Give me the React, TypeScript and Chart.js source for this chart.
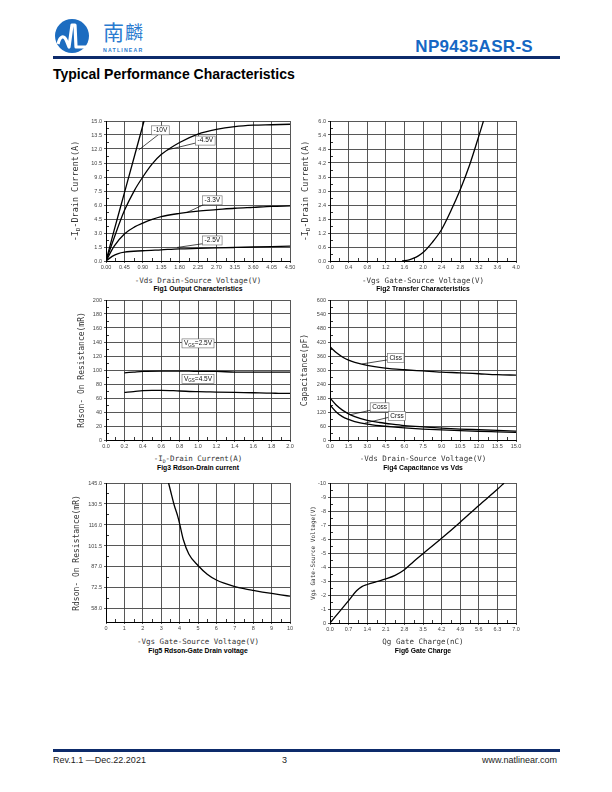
import React, { useEffect, useRef } from "react";
import { Chart, registerables } from "chart.js";
Chart.register(...registerables);

// ---------- Fig1 Output Characteristics ----------
const fig1XTicks = ["0.00", "0.45", "0.90", "1.35", "1.80", "2.25", "2.70", "3.15", "3.60", "4.05", "4.50"];
const fig1YTicks = ["0.0", "1.5", "3.0", "4.5", "6.0", "7.5", "9.0", "10.5", "12.0", "13.5", "15.0"];
const fig1VdsM10 = [0, 0.2, 0.45, 0.7, 0.93];
const fig1IdM10 = [0, 3.3, 7.3, 11.3, 15];
const fig1VdsCurve = [0, 0.2, 0.45, 0.7, 0.9, 1.13, 1.35, 1.8, 2.25, 2.7, 3.15, 3.6, 4.05, 4.5];
const fig1IdM45 = [0, 2.5, 5.4, 7.6, 9.0, 10.4, 11.4, 12.7, 13.6, 14.1, 14.4, 14.55, 14.6, 14.65];
const fig1IdM33 = [0, 1.6, 2.9, 3.65, 4.05, 4.45, 4.75, 5.1, 5.35, 5.5, 5.65, 5.75, 5.85, 5.9];
const fig1VdsM25 = [0, 0.15, 0.3, 0.45, 0.9, 1.35, 1.8, 2.25, 2.7, 3.15, 3.6, 4.05, 4.5];
const fig1IdM25 = [0, 0.5, 0.8, 0.95, 1.1, 1.2, 1.3, 1.35, 1.4, 1.45, 1.5, 1.55, 1.6];

// ---------- Fig2 Transfer Characteristics ----------
const fig2XTicks = ["0.0", "0.4", "0.8", "1.2", "1.6", "2.0", "2.4", "2.8", "3.2", "3.6", "4.0"];
const fig2YTicks = ["0.0", "0.6", "1.2", "1.8", "2.4", "3.0", "3.6", "4.2", "4.8", "5.4", "6.0"];
const fig2Vgs = [1.55, 1.7, 1.8, 1.9, 2.0, 2.2, 2.4, 2.6, 2.8, 3.0, 3.2, 3.3];
const fig2Id = [0, 0.05, 0.12, 0.22, 0.36, 0.8, 1.35, 2.15, 3.05, 4.1, 5.35, 6.0];

// ---------- Fig3 Rdson-Drain current ----------
const fig3XTicks = ["0.0", "0.2", "0.4", "0.6", "0.8", "1.0", "1.2", "1.4", "1.6", "1.8", "2.0"];
const fig3YTicks = ["0", "20", "40", "60", "80", "100", "120", "140", "160", "180", "200"];
const fig3Id = [0.2, 0.3, 0.4, 0.6, 0.8, 1.0, 1.2, 1.4, 1.6, 1.8, 2.0];
const fig3Vgs25 = [96, 97, 98, 98.5, 98.5, 98, 98, 97, 97, 97, 97];
const fig3Id45 = [0.2, 0.3, 0.4, 0.5, 0.6, 0.8, 1.0, 1.2, 1.4, 1.6, 1.8, 1.9, 2.0];
const fig3Vgs45 = [68, 69, 70.5, 71, 71, 70, 69, 68.5, 68, 67.5, 67, 66.5, 66.5];

// ---------- Fig4 Capacitance vs Vds ----------
const fig4XTicks = ["0.0", "1.5", "3.0", "4.5", "6.0", "7.5", "9.0", "10.5", "12.0", "13.5", "15.0"];
const fig4YTicks = ["0", "60", "120", "180", "240", "300", "360", "420", "480", "540", "600"];
const fig4Vds = [0, 0.5, 1, 1.5, 2, 3, 4, 5, 6, 7.5, 9, 10.5, 12, 13.5, 15];
const fig4Ciss = [400, 375, 356, 342, 333, 320, 311, 305, 301, 296, 291, 288, 284, 280, 278];
const fig4Coss = [180, 150, 128, 112, 100, 84, 75, 68, 62, 56, 51, 47, 44, 41, 38];
const fig4Crss = [150, 120, 100, 88, 79, 68, 61, 56, 52, 47, 43, 40, 37, 35, 33];

// ---------- Fig5 Rdson-Gate voltage ----------
const fig5XTicks = ["0", "1", "2", "3", "4", "5", "6", "7", "8", "9", "10"];
const fig5YTicks = ["58.0", "72.5", "87.0", "101.5", "116.0", "130.5", "145.0"];
const fig5Vgs = [3.4, 3.5, 3.7, 3.9, 4.0, 4.2, 4.5, 5.0, 5.5, 6.0, 6.5, 7.0, 7.5, 8.0, 8.5, 9.0, 9.5, 10.0];
const fig5Rds = [145, 140, 130, 122, 117, 106, 96, 88, 82, 78, 75.5, 73.5, 72, 70.8, 69.7, 68.7, 67.8, 66.8];

// ---------- Fig6 Gate Charge ----------
const fig6XTicks = ["0.0", "0.7", "1.4", "2.1", "2.8", "3.5", "4.2", "4.9", "5.6", "6.3", "7.0"];
const fig6YTicks = ["-10", "-9", "-8", "-7", "-6", "-5", "-4", "-3", "-2", "-1", "0"];
const fig6Qg = [0, 0.35, 0.7, 1.0, 1.2, 1.4, 1.75, 2.1, 2.45, 2.8, 3.15, 3.5, 4.2, 4.9, 5.6, 6.3, 6.55];
const fig6Vgs = [0, -0.8, -1.6, -2.3, -2.6, -2.75, -2.95, -3.15, -3.4, -3.8, -4.4, -4.95, -6.05, -7.2, -8.4, -9.55, -10];

type Part = { t: string; sub?: boolean };
type BoxLabel = { parts: Part[]; x: number; y: number; line?: number[] };
type Series = { xs: number[]; ys: number[] };
type Spec = {
  left: number; top: number; w: number; h: number;
  xTicks: string[]; yTicks: string[];
  xMin: number; xMax: number; yMin: number; yMax: number;
  reverseY?: boolean; series: Series[]; labels?: BoxLabel[];
};

const PAD_L = 34, PAD_T = 6, PAD_R = 14, PAD_B = 12;
const TICK_FONT = { size: 5.5, family: "Liberation Sans, Arial, sans-serif" };

function Plot({ spec }: { spec: Spec }) {
  const ref = useRef<HTMLCanvasElement>(null);
  const cw = spec.w + PAD_L + PAD_R;
  const ch = spec.h + PAD_T + PAD_B;
  useEffect(() => {
    const xVals = spec.xTicks.map(parseFloat);
    const yVals = spec.yTicks.map(parseFloat);
    const overlay = {
      id: "overlay",
      afterDatasetsDraw(chart: any) {
        const ctx = chart.ctx;
        const xs = chart.scales.x, ys = chart.scales.y;
        const a = chart.chartArea;
        ctx.save();
        ctx.strokeStyle = "#000";
        ctx.lineWidth = 0.8;
        ctx.beginPath();
        for (let i = 0; i < xVals.length - 1; i++) {
          const px = Math.round(xs.getPixelForValue((xVals[i] + xVals[i + 1]) / 2)) + 0.5;
          ctx.moveTo(px, a.bottom);
          ctx.lineTo(px, a.bottom - 3);
        }
        for (let i = 0; i < yVals.length - 1; i++) {
          const py = Math.round(ys.getPixelForValue((yVals[i] + yVals[i + 1]) / 2)) + 0.5;
          ctx.moveTo(a.left, py);
          ctx.lineTo(a.left + 3, py);
        }
        ctx.stroke();
        (spec.labels || []).forEach((lb) => {
          if (lb.line) {
            ctx.beginPath();
            ctx.strokeStyle = "#000";
            ctx.lineWidth = 0.7;
            ctx.moveTo(xs.getPixelForValue(lb.line[0]), ys.getPixelForValue(lb.line[1]));
            ctx.lineTo(xs.getPixelForValue(lb.line[2]), ys.getPixelForValue(lb.line[3]));
            ctx.stroke();
          }
          const big = "6.5px Liberation Sans, Arial, sans-serif";
          const small = "4.5px Liberation Sans, Arial, sans-serif";
          let tw = 0;
          lb.parts.forEach((p) => {
            ctx.font = p.sub ? small : big;
            tw += ctx.measureText(p.t).width;
          });
          const cx = xs.getPixelForValue(lb.x), cy = ys.getPixelForValue(lb.y);
          const bw = tw + 4, bh = 9;
          ctx.fillStyle = "#fff";
          ctx.fillRect(cx - bw / 2, cy - bh / 2, bw, bh);
          ctx.strokeStyle = "#666";
          ctx.lineWidth = 0.6;
          ctx.strokeRect(cx - bw / 2, cy - bh / 2, bw, bh);
          let tx = cx - tw / 2;
          ctx.fillStyle = "#111";
          ctx.textBaseline = "middle";
          lb.parts.forEach((p) => {
            ctx.font = p.sub ? small : big;
            ctx.fillText(p.t, tx, p.sub ? cy + 2 : cy);
            tx += ctx.measureText(p.t).width;
          });
        });
        ctx.restore();
      },
    };
    const chart = new Chart(ref.current as HTMLCanvasElement, {
      type: "scatter",
      data: {
        datasets: spec.series.map((s) => ({
          data: s.xs.map((x, i) => ({ x, y: s.ys[i] })),
          showLine: true,
          borderColor: "#000",
          borderWidth: 1.3,
          pointRadius: 0,
          cubicInterpolationMode: "monotone",
          fill: false,
        })) as any,
      },
      options: {
        animation: false,
        responsive: false,
        maintainAspectRatio: false,
        layout: { padding: { left: 0, top: PAD_T, right: PAD_R, bottom: 0 } },
        plugins: { legend: { display: false }, tooltip: { enabled: false } },
        scales: {
          x: {
            type: "linear",
            min: spec.xMin,
            max: spec.xMax,
            afterBuildTicks: (s: any) => { s.ticks = xVals.map((v) => ({ value: v })); },
            afterFit: (s: any) => { s.height = PAD_B; },
            ticks: {
              callback: (_v: any, i: number) => spec.xTicks[i],
              font: TICK_FONT, color: "#444", padding: 1, maxRotation: 0, autoSkip: false,
            },
            grid: { color: "#444", lineWidth: 0.9, tickLength: 2 },
            border: { color: "#000", width: 1 },
          },
          y: {
            type: "linear",
            min: spec.yMin,
            max: spec.yMax,
            reverse: !!spec.reverseY,
            afterBuildTicks: (s: any) => { s.ticks = yVals.map((v) => ({ value: v })); },
            afterFit: (s: any) => { s.width = PAD_L; },
            ticks: {
              callback: (_v: any, i: number) => spec.yTicks[i],
              font: TICK_FONT, color: "#444", padding: 2, autoSkip: false,
            },
            grid: { color: "#444", lineWidth: 0.9, tickLength: 2 },
            border: { color: "#000", width: 1 },
          },
        },
      } as any,
      plugins: [overlay as any],
    });
    return () => chart.destroy();
  }, []);
  return (
    <canvas
      ref={ref}
      width={cw}
      height={ch}
      style={{ position: "absolute", left: spec.left - PAD_L, top: spec.top - PAD_T, width: cw, height: ch }}
    />
  );
}

const MONO = "DejaVu Sans Mono, monospace";
const SANS = "Liberation Sans, Arial, sans-serif";

function VText({ x, y, size = 8, children }: any) {
  return (
    <div style={{ position: "absolute", left: x, top: y, transform: "translate(-50%,-50%) rotate(-90deg)", whiteSpace: "nowrap", fontFamily: MONO, fontSize: size, color: "#333", lineHeight: 1 }}>
      {children}
    </div>
  );
}
function HText({ x, y, size = 7.5, bold = false, font = MONO, children }: any) {
  return (
    <div style={{ position: "absolute", left: x, top: y, transform: "translate(-50%,-50%)", whiteSpace: "nowrap", fontFamily: font, fontSize: size, fontWeight: bold ? "bold" : "normal", color: bold ? "#000" : "#333", lineHeight: 1 }}>
      {children}
    </div>
  );
}
const Sub = ({ children }: any) => <sub style={{ fontSize: "0.65em", verticalAlign: "-0.35em", lineHeight: 0 }}>{children}</sub>;

const fig1: Spec = {
  left: 106, top: 121, w: 184, h: 140, xTicks: fig1XTicks, yTicks: fig1YTicks, xMin: 0, xMax: 4.5, yMin: 0, yMax: 15,
  series: [
    { xs: fig1VdsM10, ys: fig1IdM10 },
    { xs: fig1VdsCurve, ys: fig1IdM45 },
    { xs: fig1VdsCurve, ys: fig1IdM33 },
    { xs: fig1VdsM25, ys: fig1IdM25 },
  ],
  labels: [
    { parts: [{ t: "-10V" }], x: 1.33, y: 14.0, line: [1.3, 13.6, 0.8, 11.9] },
    { parts: [{ t: "-4.5V" }], x: 2.43, y: 12.9, line: [2.25, 12.7, 1.5, 11.9] },
    { parts: [{ t: "-3.3V" }], x: 2.6, y: 6.5, line: [2.42, 6.1, 1.98, 5.2] },
    { parts: [{ t: "-2.5V" }], x: 2.6, y: 2.2, line: [2.44, 1.9, 1.74, 1.45] },
  ],
};
const fig2: Spec = {
  left: 330, top: 121, w: 186, h: 140, xTicks: fig2XTicks, yTicks: fig2YTicks, xMin: 0, xMax: 4, yMin: 0, yMax: 6,
  series: [{ xs: fig2Vgs, ys: fig2Id }],
};
const fig3: Spec = {
  left: 106, top: 300, w: 184, h: 140, xTicks: fig3XTicks, yTicks: fig3YTicks, xMin: 0, xMax: 2, yMin: 0, yMax: 200,
  series: [{ xs: fig3Id, ys: fig3Vgs25 }, { xs: fig3Id45, ys: fig3Vgs45 }],
  labels: [
    { parts: [{ t: "V" }, { t: "GS", sub: true }, { t: "=2.5V" }], x: 1.0, y: 138 },
    { parts: [{ t: "V" }, { t: "GS", sub: true }, { t: "=4.5V" }], x: 1.0, y: 87 },
  ],
};
const fig4: Spec = {
  left: 330, top: 300, w: 186, h: 140, xTicks: fig4XTicks, yTicks: fig4YTicks, xMin: 0, xMax: 15, yMin: 0, yMax: 600,
  series: [{ xs: fig4Vds, ys: fig4Ciss }, { xs: fig4Vds, ys: fig4Coss }, { xs: fig4Vds, ys: fig4Crss }],
  labels: [
    { parts: [{ t: "Ciss" }], x: 5.3, y: 352, line: [4.6, 343, 2.6, 326] },
    { parts: [{ t: "Coss" }], x: 4.0, y: 140, line: [3.4, 129, 1.6, 108] },
    { parts: [{ t: "Crss" }], x: 5.4, y: 103, line: [4.8, 98, 2.8, 72] },
  ],
};
const fig5: Spec = {
  left: 106, top: 483, w: 184, h: 139, xTicks: fig5XTicks, yTicks: fig5YTicks, xMin: 0, xMax: 10, yMin: 49, yMax: 145,
  series: [{ xs: fig5Vgs, ys: fig5Rds }],
};
const fig6: Spec = {
  left: 330, top: 483, w: 186, h: 140, xTicks: fig6XTicks, yTicks: fig6YTicks, xMin: 0, xMax: 7, yMin: -10, yMax: 0, reverseY: true,
  series: [{ xs: fig6Qg, ys: fig6Vgs }],
};

function Logo() {
  return (
    <svg style={{ position: "absolute", left: 50, top: 17 }} width={110} height={42} viewBox="0 0 110 42">
      <circle cx={22} cy={19} r={17} fill="#1c6cc0" />
      <path d="M8 27 C10 19, 14 17, 17 25 L19 30 L22 8 L25 8 L26 30 L37 30" stroke="#fff" strokeWidth={3.2} fill="none" strokeLinejoin="round" />
      <text x={53} y={23} fontFamily="Noto Sans CJK SC" fontSize={21} fill="#2a7bd0">南</text>
      <text x={75} y={22} fontFamily="Noto Sans CJK SC" fontSize={18} fill="#2a7bd0">麟</text>
      <text x={53} y={35} fontFamily="Liberation Sans" fontWeight="bold" fontSize={5.2} letterSpacing={1.2} fill="#2a7bd0">NATLINEAR</text>
    </svg>
  );
}

export default function App() {
  return (
    <div style={{ position: "absolute", left: 0, top: 0, width: 612, height: 792, background: "#fff", overflow: "hidden" }}>
      <Logo />
      <div style={{ position: "absolute", right: 79, top: 37, fontFamily: SANS, fontWeight: 900, fontSize: 17, color: "#1567c4", letterSpacing: 0.3 }}>NP9435ASR-S</div>
      <div style={{ position: "absolute", left: 53, top: 56, width: 507, height: 3, background: "#0d2b6b" }} />
      <div style={{ position: "absolute", left: 53, top: 66, fontFamily: SANS, fontWeight: "bold", fontSize: 14, color: "#000" }}>Typical Performance Characteristics</div>

      <Plot spec={fig1} />
      <Plot spec={fig2} />
      <Plot spec={fig3} />
      <Plot spec={fig4} />
      <Plot spec={fig5} />
      <Plot spec={fig6} />

      <VText x={75} y={191} size={8.5}>-I<Sub>D</Sub>-Drain Current(A)</VText>
      <VText x={305} y={191} size={8.5}>-I<Sub>D</Sub>-Drain Current(A)</VText>
      <VText x={82} y={370} size={8}>Rdson- On Resistance(mR)</VText>
      <VText x={305} y={370} size={8}>Capacitance(pF)</VText>
      <VText x={77} y={553} size={8}>Rdson- On Resistance(mR)</VText>
      <VText x={313} y={553} size={6}>Vgs Gate-Source Voltage(V)</VText>

      <HText x={198} y={281}>-Vds Drain-Source Voltage(V)</HText>
      <HText x={198} y={289} size={6.8} bold font={SANS}>Fig1 Output Characteristics</HText>
      <HText x={423} y={281}>-Vgs Gate-Source Voltage(V)</HText>
      <HText x={423} y={289} size={6.8} bold font={SANS}>Fig2 Transfer Characteristics</HText>
      <HText x={198} y={459}>-I<Sub>D</Sub>-Drain Current(A)</HText>
      <HText x={198} y={468} size={6.8} bold font={SANS}>Fig3 Rdson-Drain current</HText>
      <HText x={423} y={459}>-Vds Drain-Source Voltage(V)</HText>
      <HText x={423} y={468} size={6.8} bold font={SANS}>Fig4 Capacitance vs Vds</HText>
      <HText x={198} y={642}>-Vgs Gate-Source Voltage(V)</HText>
      <HText x={198} y={651} size={6.8} bold font={SANS}>Fig5  Rdson-Gate Drain voltage</HText>
      <HText x={423} y={642}>Qg Gate Charge(nC)</HText>
      <HText x={423} y={651} size={6.8} bold font={SANS}>Fig6 Gate Charge</HText>

      <div style={{ position: "absolute", left: 53, top: 749, width: 507, height: 3, background: "#0d2b6b" }} />
      <div style={{ position: "absolute", left: 53, top: 755, fontFamily: SANS, fontSize: 9, color: "#222" }}>Rev.1.1 —Dec.22.2021</div>
      <div style={{ position: "absolute", left: 282, top: 755, fontFamily: SANS, fontSize: 9, color: "#222" }}>3</div>
      <div style={{ position: "absolute", right: 55, top: 755, fontFamily: SANS, fontSize: 9, color: "#222" }}>www.natlinear.com</div>
    </div>
  );
}
